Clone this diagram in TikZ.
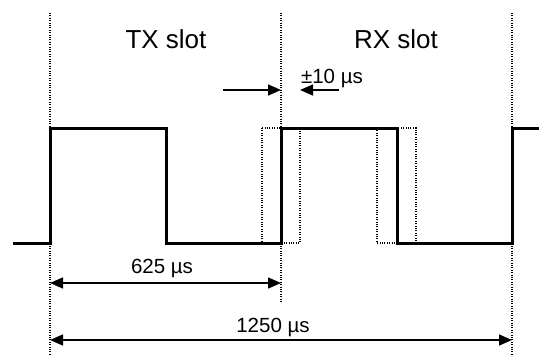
\documentclass[tikz,border=0pt]{standalone}
\usepackage{fontspec}
\setmainfont{Liberation Sans}
\usetikzlibrary{arrows.meta}

\tikzset{
  signal/.style={line width=3pt, line join=miter},
  guide/.style={line width=1.1pt, dash pattern=on 1pt off 1.4pt},
  tip/.style={-{Triangle[length=13pt,width=11pt]}},
  dimline/.style={line width=1.5pt, {Triangle[length=13pt,width=11pt]}-{Triangle[length=13pt,width=11pt]}},
  slotlbl/.style={inner sep=0pt, anchor=base, font=\fontsize{26}{29}\selectfont},
  dimlbl/.style={inner sep=0pt, anchor=base, font=\fontsize{20.5}{23}\selectfont}
}

\begin{document}
\begin{tikzpicture}[x=1pt,y=-1pt]
\useasboundingbox (0,0) rectangle (539,354);

% slot borders
\coordinate (Ltop) at (50,13);
\coordinate (Lbot) at (50,354);
\coordinate (Mtop) at (281,13);
\coordinate (Mbot) at (281,302);
\coordinate (Rtop) at (512,13);
\coordinate (Rbot) at (512,354);
\draw[guide] (Ltop) -- (Lbot);
\draw[guide] (Mtop) -- (Mbot);
\draw[guide] (Rtop) -- (Rbot);

% jitter windows
\draw[guide] (262,128) rectangle (300,243);
\draw[guide] (377,128) rectangle (416,243);

% waveform
\draw[signal] (13,243) -- (50,243) -- (50,128) -- (166,128) -- (166,243)
  -- (281,243) -- (281,128) -- (397,128) -- (397,243) -- (512,243)
  -- (512,128) -- (541,128);

\node[slotlbl] (tx) at (166,48) {TX slot};
\node[slotlbl] (rx) at (396,48) {RX slot};

% jitter arrows
\coordinate (jA) at (223,90);
\coordinate (jB) at (281,90);
\coordinate (jC) at (339,90);
\coordinate (jD) at (300,90);
\draw[line width=1.5pt, tip] (jA) -- (jB);
\draw[line width=1.5pt, tip] (jC) -- (jD);
\node[dimlbl] (jit) at (332,83) {±10 µs};

% periods
\coordinate (pA) at (50,283);
\coordinate (pB) at (281,283);
\coordinate (fA) at (50,340);
\coordinate (fB) at (512,340);
\draw[dimline] (pA) -- (pB);
\draw[dimline] (fA) -- (fB);
\node[dimlbl] (half) at (162,273) {625 µs};
\node[dimlbl] (full) at (273,332) {1250 µs};
\end{tikzpicture}
\end{document}
